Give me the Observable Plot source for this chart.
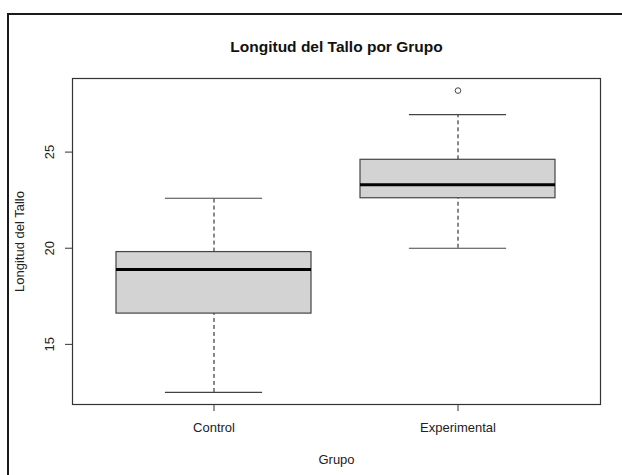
<!DOCTYPE html>
<html>
<head>
<meta charset="utf-8">
<script src="https://cdn.jsdelivr.net/npm/d3@7"></script>
<script src="https://cdn.jsdelivr.net/npm/@observablehq/plot@0.6"></script>
<style>
  html, body { margin: 0; padding: 0; background: #fff; }
  #wrap { position: relative; width: 622px; height: 475px; overflow: hidden; }
  #border { position: absolute; left: 7px; top: 13px; width: 700px; height: 600px;
            border-left: 2px solid #1a1a1a; border-top: 2px solid #1a1a1a; }
  #chart { position: absolute; left: 0; top: 0; }
  svg { font-family: "Liberation Sans", Arial, sans-serif; }
</style>
</head>
<body>
<div id="wrap"><div id="chart"></div><div id="border"></div></div>
<script>
// Data
const groups = ["Control", "Experimental"];
const q1 = [16.6, 22.6];
const medians = [18.9, 23.3];
const q3 = [19.8, 24.6];
const whiskerLow = [12.5, 20.0];
const whiskerHigh = [22.6, 26.95];
const outlierGroups = ["Experimental"];
const outlierValues = [28.2];
const yTicks = [15, 20, 25];
const titleText = "Longitud del Tallo por Grupo";
const xLabel = "Grupo";
const yLabel = "Longitud del Tallo";

const stats = groups.map((g, i) => ({
  group: g, q1: q1[i], median: medians[i], q3: q3[i], lo: whiskerLow[i], hi: whiskerHigh[i]
}));
const outliers = outlierGroups.map((g, i) => ({group: g, value: outlierValues[i]}));

const dataMin = d3.min([...whiskerLow, ...outlierValues]);
const dataMax = d3.max([...whiskerHigh, ...outlierValues]);
const ext = (dataMax - dataMin) * 0.04;

const W = 622, H = 475;
const mL = 72, mR = 22, mT = 78, mB = 71;
const step = (W - mL - mR) / (2 - 0.2 + 2 * 0.18);
const bandwidth = step * 0.8;
const capInset = bandwidth / 4;
const ink = "#222";
const fs = 13;

const chart = Plot.plot({
  width: W, height: H,
  marginLeft: mL, marginRight: mR, marginTop: mT, marginBottom: mB,
  style: {fontFamily: "Liberation Sans, Arial, sans-serif", fontSize: fs + "px", color: ink, background: "white"},
  x: {domain: groups, paddingInner: 0.2, paddingOuter: 0.18, label: null},
  y: {domain: [dataMin - ext, dataMax + ext], label: null},
  marks: [
    // whiskers (dashed)
    Plot.ruleX(stats, {x: "group", y1: "q3", y2: "hi", stroke: "#111", strokeWidth: 1, strokeDasharray: "4,3"}),
    Plot.ruleX(stats, {x: "group", y1: "lo", y2: "q1", stroke: "#111", strokeWidth: 1, strokeDasharray: "4,3"}),
    // whisker caps
    Plot.tickY(stats, {x: "group", y: "hi", stroke: "#444", strokeWidth: 1.2, insetLeft: capInset, insetRight: capInset}),
    Plot.tickY(stats, {x: "group", y: "lo", stroke: "#444", strokeWidth: 1.2, insetLeft: capInset, insetRight: capInset}),
    // boxes
    Plot.barY(stats, {x: "group", y1: "q1", y2: "q3", fill: "#d3d3d3", stroke: "#444", strokeWidth: 1.2}),
    // medians
    Plot.tickY(stats, {x: "group", y: "median", stroke: "#000", strokeWidth: 3}),
    // outliers
    Plot.dot(outliers, {x: "group", y: "value", r: 2.8, stroke: "#444", strokeWidth: 1, fill: "none"}),
    Plot.frame({stroke: "#333", strokeWidth: 1.2}),
    // axes
    Plot.axisX({tickSize: 7, tickPadding: 11, fontSize: fs, stroke: "#333", fill: ink}),
    Plot.axisY({ticks: yTicks, tickSize: 7, tickFormat: () => "", stroke: "#333", label: null}),
    Plot.text(yTicks, {y: d => d, text: d => String(d), frameAnchor: "left", dx: -23, rotate: -90,
      textAnchor: "middle", lineAnchor: "middle", fontSize: fs, fill: ink}),
    // titles
    Plot.text([titleText], {text: d => d, frameAnchor: "top", dy: -31, lineAnchor: "middle",
      fontSize: 15.5, fontWeight: "bold", fill: "#111"}),
    Plot.text([xLabel], {text: d => d, frameAnchor: "bottom", dy: 55, lineAnchor: "middle", fontSize: fs, fill: ink}),
    Plot.text([yLabel], {text: d => d, frameAnchor: "left", dx: -53, rotate: -90, lineAnchor: "middle",
      textAnchor: "middle", fontSize: fs, fill: ink})
  ]
});
document.getElementById("chart").appendChild(chart);
</script>
</body>
</html>
